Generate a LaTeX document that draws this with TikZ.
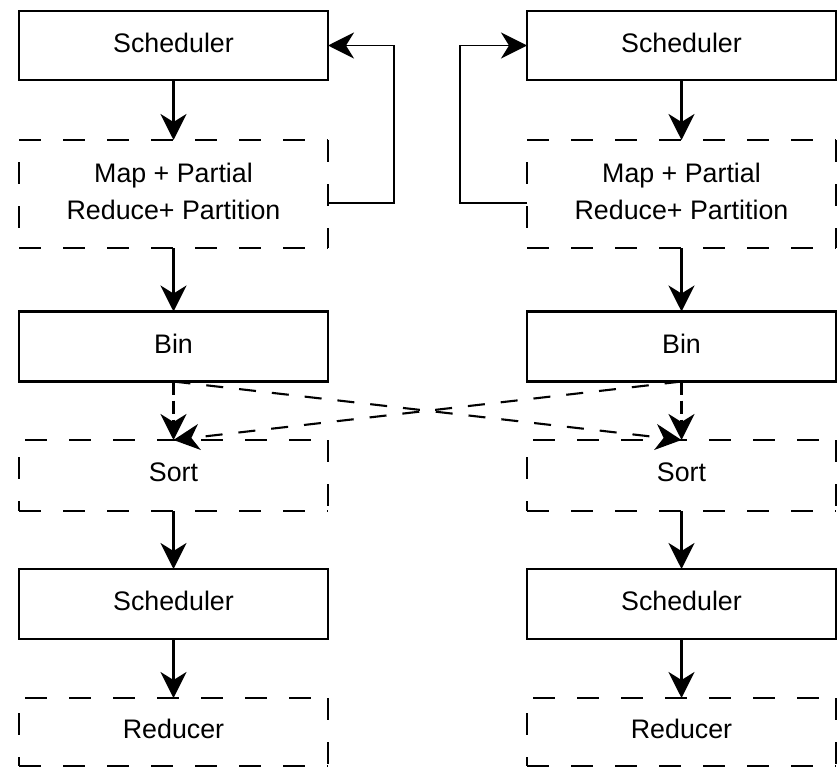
\documentclass[tikz,border=0pt]{standalone}
\usepackage{fontspec}
\setmainfont{Liberation Sans}
\usetikzlibrary{arrows.meta}

\tikzset{
  box/.style={rectangle, minimum width=309pt, inner sep=0pt, outer sep=0pt,
    align=center, font=\fontsize{26.8}{36.7}\selectfont, text depth=6pt},
  solidbox/.style={box, draw, line width=2.7pt},
  dashbox/.style={box},
  boxedge/.style={line width=2.7pt, dash pattern=on 22pt off 22pt},
  head/.style={-{Stealth[length=26pt, width=26pt, inset=8pt]}},
  flow/.style={line width=2.7pt, head},
  loopback/.style={line width=1.9pt, head},
  straightdash/.style={line width=2.7pt, dash pattern=on 13pt off 6pt, head},
  swapdash/.style={line width=2.1pt, dash pattern=on 17pt off 16pt, head}
}

% four dashed sides of a borderless node: name, top phase, left phase
\newcommand\dashedoutline[3]{%
  \draw[boxedge, dash phase=#2] (#1.north west) -- (#1.north east);
  \draw[boxedge, dash phase=#3] (#1.north west) -- (#1.south west);
  \draw[boxedge] (#1.south west) -- (#1.south east);
  \draw[boxedge] (#1.north east) -- (#1.south east);
}

\begin{document}
\begin{tikzpicture}[x=1pt, y=-1pt]
  \useasboundingbox (0,0) rectangle (837,771);

  % left pipeline
  \node[solidbox, minimum height=69pt]  (lsched) at (173.5,45.5)  {Scheduler};
  \node[dashbox,  minimum height=108pt] (lmap)   at (173.5,194)   {Map + Partial\\Reduce+ Partition};
  \node[solidbox, minimum height=70pt]  (lbin)   at (173.5,346.5) {Bin};
  \node[dashbox,  minimum height=71pt]  (lsort)  at (173.5,475.5) {Sort};
  \node[solidbox, minimum height=70pt]  (lsched2) at (173.5,604)  {Scheduler};
  \node[dashbox,  minimum height=68pt]  (lred)   at (173.5,732)   {Reducer};

  % right pipeline
  \node[solidbox, minimum height=69pt]  (rsched) at (681.5,45.5)  {Scheduler};
  \node[dashbox,  minimum height=108pt] (rmap)   at (681.5,194)   {Map + Partial\\Reduce+ Partition};
  \node[solidbox, minimum height=70pt]  (rbin)   at (681.5,346.5) {Bin};
  \node[dashbox,  minimum height=71pt]  (rsort)  at (681.5,475.5) {Sort};
  \node[solidbox, minimum height=70pt]  (rsched2) at (681.5,604)  {Scheduler};
  \node[dashbox,  minimum height=68pt]  (rred)   at (681.5,732)   {Reducer};

  \dashedoutline{lmap}{0pt}{22pt}
  \dashedoutline{lsort}{38pt}{27pt}
  \dashedoutline{lred}{38pt}{29pt}
  \dashedoutline{rmap}{0pt}{22pt}
  \dashedoutline{rsort}{38pt}{27pt}
  \dashedoutline{rred}{38pt}{29pt}

  % main flow
  \draw[flow] (lsched) -- (lmap);
  \draw[flow] (lmap) -- (lbin);
  \draw[flow] (lsort) -- (lsched2);
  \draw[flow] (lsched2) -- (lred);
  \draw[flow] (rsched) -- (rmap);
  \draw[flow] (rmap) -- (rbin);
  \draw[flow] (rsort) -- (rsched2);
  \draw[flow] (rsched2) -- (rred);

  % feedback to the schedulers
  \draw[loopback] ([yshift=-9pt]lmap.east) -- ++(66,0) |- (lsched.east);
  \draw[loopback] ([yshift=-9pt]rmap.west) -- ++(-67,0) |- (rsched.west);

  % bins to sorters
  \draw[straightdash] (lbin.south) -- (lsort.north);
  \draw[straightdash] (rbin.south) -- (rsort.north);
  \draw[swapdash] (lbin.south) -- (rsort.north);
  \draw[swapdash] (rbin.south) -- (lsort.north);
\end{tikzpicture}
\end{document}
